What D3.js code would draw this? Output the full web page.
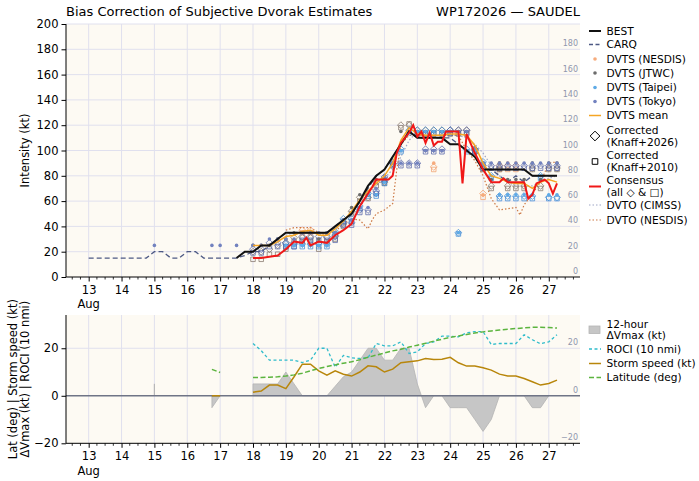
<!DOCTYPE html>
<html>
<head>
<meta charset="utf-8">
<script src="https://cdn.jsdelivr.net/npm/d3@7/dist/d3.min.js"></script>
<style>
body { margin: 0; background: #fff; }
svg { font-family: "DejaVu Sans", sans-serif; }
</style>
</head>
<body>
<div id="chart"></div>
<script>
// ---- data ----
var dvtsTimes = [18.0,18.25,18.5,18.75,19.0,19.25,19.5,19.75,20.0,20.25,20.5,20.75,21.0,21.25,21.5,21.75,22.0,22.25,22.5,22.75,23.0,23.25,23.5,23.75,24.0,24.25,24.5,24.75,25.0,25.25,25.5,25.75,26.0,26.25,26.5,26.75,27.0,27.25];

var bestTimes = [17.5,17.75,18.0,18.25,18.5,18.75,19.0,19.25,19.5,19.75,20.0,20.25,20.5,20.75,21.0,21.25,21.5,21.75,22.0,22.25,22.5,22.75,23.0,23.25,23.5,23.75,24.0,24.25,24.5,24.75,25.0,25.25,25.5,25.75,26.0,26.25,26.5,26.75,27.0,27.25];
var best = [15,20,20,25,25,30,35,35,35,35,35,35,40,45,50,60,72,80,85,95,105,115,110,110,110,110,105,105,100,95,85,85,85,85,85,85,80,80,80,80];

var carqTimes = [13.0,14.75,15.0,15.25,15.5,15.75,16.0,16.25,16.5,17.5,17.75,18.0,18.25,18.5,18.75,19.0,19.25,19.5,19.75,20.0,20.25,20.5,20.75,21.0,21.25,21.5,21.75,22.0,22.25,22.5,22.75,23.0,23.25,23.5,23.75,24.0,24.25,24.5,24.75,25.0,25.25,25.5,25.75,26.0,26.25,26.5,26.75,27.0,27.25];
var carq = [15,15,20,20,15,15,20,20,15,15,17,20,20,25,30,35,35,35,35,35,35,40,45,50,60,70,80,85,95,105,115,110,110,110,110,110,105,100,95,85,85,80,75,80,75,80,80,80,80];

var earlyTimes = [15.0,16.75,17.0,17.5];
var earlyTokyo = [25,25,25,25];

var jtwc     = [25,25,25,30,30,35,35,35,30,35,35,45,55,65,65,77,77,90,115,115,115,115,115,115,115,115,115,102,90,77,90,77,77,77,90,77,90,90];
var jtwcK26  = [20,20,22,25,27,31,31,31,27,31,33,42,52,63,63,75,75,90,120,120,116,116,116,116,116,116,116,100,86,72,86,72,72,72,86,72,86,86];
var jtwcK10  = [14,14,18,18,22,28,28,28,22,28,30,40,50,60,62,72,74,88,118,121,113,113,113,113,113,113,113,99,85,70,85,70,70,70,85,70,85,85];

var taipei    = [null,null,null,null,25,25,25,25,25,25,35,45,45,55,65,65,75,90,100,115,115,115,115,115,115,35,100,100,90,80,65,65,65,65,65,80,65,65];
var taipeiK26 = [null,null,null,null,26,26,26,26,26,26,36,46,46,56,66,66,76,91,101,116,116,116,116,116,116,35,101,101,91,80,64,64,64,64,64,80,63,63];
var taipeiK10 = [null,null,null,null,24,24,24,24,24,24,34,44,44,54,64,64,74,89,99,114,114,114,114,114,114,34,99,99,89,78,62,62,62,62,62,78,62,62];

var tokyo    = [25,25,30,30,30,30,35,35,35,35,35,45,45,55,55,70,80,90,90,90,90,100,100,100,115,115,115,102,90,90,90,90,90,90,90,90,90,90];
var tokyoK26 = [22,22,27,27,27,27,32,32,32,32,32,43,43,53,53,68,79,90,90,90,90,101,101,101,116,116,116,101,88,88,88,88,88,88,88,88,88,88];
var tokyoK10 = [19,19,24,24,24,24,29,29,29,29,29,41,41,51,51,66,77,88,88,88,88,99,99,99,114,114,114,99,86,86,86,86,86,86,86,86,86,86];

var nesdis    = [null,null,null,null,null,null,35,35,null,null,null,null,null,null,null,null,null,null,null,null,null,null,90,null,null,null,null,null,65,null,90,90,90,null,null,null,null,null];
var nesdisK26 = [null,null,null,null,null,null,37,37,null,null,null,null,null,null,null,null,null,null,null,null,null,null,87,null,null,null,null,null,66,null,88,88,88,null,null,null,null,null];
var nesdisK10 = [null,null,null,null,null,null,35,35,null,null,null,null,null,null,null,null,null,null,null,null,null,null,85,null,null,null,null,null,63,null,85,85,85,null,null,null,null,null];

var dvtsMean = [25,25,25,28,32,33,36,37,33,33,38,44,52,61,68,74,80,90,108,118,113,112,112,112,113,113,112,104,90,80,78,75,74,74,70,75,77,75];

var consensusTimes = [18.0,18.25,18.5,18.75,19.0,19.25,19.5,19.625,19.75,20.0,20.25,20.5,20.75,21.0,21.25,21.5,21.625,21.75,22.0,22.125,22.25,22.375,22.5,22.75,22.875,23.0,23.125,23.25,23.375,23.5,23.625,23.75,23.875,24.0,24.25,24.375,24.5,24.75,25.0,25.25,25.5,25.625,25.75,26.0,26.25,26.375,26.5,26.625,26.875,27.0,27.125,27.25];
var consensus = [15,15,16,17,22,28,27,31,25,28,27,33,37,42,56,66,71,77,77,77,80,98,106,114,120,111,115,106,114,104,107,107,115,115,115,74,113,98,85,75,75,78,75,75,75,62,65,74,77,74,66,74];

var dvtoNTimes = [19.0,19.25,19.5,19.75,20.0,20.25,20.5,20.75,21.0,21.25,21.5,21.625,21.75,22.0,22.25,22.375,22.5,22.75,23.0,23.25,23.5,23.75,24.0,24.25,24.5,24.75,25.0,25.25,25.5,25.75,26.0,26.125,26.25,26.5,26.75,27.0,27.25];
var dvtoNesdis = [37,39,39,39,35,33,36,42,46,45,38,45,50,53,58,85,105,112,112,112,112,112,112,112,100,92,80,62,53,54,55,49,57,66,75,90,91];

var dvtoCTimes = [19.0,19.25,19.5,19.75,20.0,20.25,20.5,20.75,21.0,21.25,21.5,21.75,22.0,22.25,22.5,22.75,23.0,23.25,23.5,23.75,24.0,24.25,24.5,24.75,25.0,25.25,25.5,25.75,26.0,26.25,26.5,26.75,27.0,27.25];
var dvtoCimss = [33,35,36,36,35,35,38,42,48,55,65,72,78,85,95,108,115,114,112,112,112,112,110,105,98,88,80,75,72,72,72,75,78,80];

// lower panel
var dvTimes = [18.0,18.25,18.5,18.75,19.0,19.25,19.5,19.75,20.0,20.25,20.5,20.75,21.0,21.25,21.5,21.75,22.0,22.25,22.5,22.75,23.0,23.25,23.5,23.75,24.0,24.25,24.5,24.75,25.0,25.25,25.5,25.75,26.0,26.25,26.5,26.75,27.0];
var dvmax = [5,5,5,5,10,5,0,0,0,0,4,8,10,15,20,20,15,15,20,20,5,-5,0,0,-5,-5,-5,-10,-15,-10,0,0,0,0,-5,-5,0];
var dvSpikeTimes = [15.0,15.0];
var dvSpike = [0,5];
var dvEarlyTimes = [16.75,17.0];
var dvEarly = [-5,0];

var earlyMotionTimes = [16.75,17.0];
var speedEarly = [0,0];
var latEarly = [11.1,9.8];
var speed = [1.5,2,4.5,4.5,3,8,13.3,13.3,10.5,8.7,10.5,9.1,8.3,10,12.6,12.2,10,11.2,13.9,14.3,14.7,15.7,15.3,15.4,16.2,13.9,12.5,12.5,11.8,10.8,9.1,8.3,8.3,7.3,5.9,4.5,5.2,6.6];
var latitude = [7.7,7.7,7.8,8.0,8.3,8.8,9.5,10.5,11.5,12.3,13.0,13.7,14.3,15.2,16.2,17.1,18.0,18.9,19.6,20.5,21.3,22.1,23.0,23.8,24.6,25.2,25.8,26.4,26.9,27.3,27.7,28.0,28.3,28.6,28.8,28.8,28.7,28.5];
var roci = [22,19,15,15,15,15,14,15,20,20,12,17,16,15.7,16,22,21,21,22.7,17.8,18.5,22,22.7,25.1,25.1,24.8,26.5,27,27,21.6,22,22,22,25.7,23.6,21.9,22.7,25.7];

var dayTicks = [13,14,15,16,17,18,19,20,21,22,23,24,25,26,27];
var intensityTicks = [0,20,40,60,80,100,120,140,160,180,200];
var lowerTicks = [-20,0,20];

// ---- layout ----
var SVGwidth = 699, SVGheight = 481;
var plotL = 66, plotR = 580;
var upTop = 24, upBot = 277, loTop = 315, loBot = 443.3;
var bg = "#fdfaf3", gridCol = "#e0e0ee";

var svg = d3.select("#chart").append("svg")
	.attr("width", SVGwidth).attr("height", SVGheight);

var x = d3.scaleLinear().domain([12.31, 27.95]).range([plotL, plotR]);
var y = d3.scaleLinear().domain([0, 200]).range([upBot, upTop]);
var y2 = d3.scaleLinear().domain([-20, 34]).range([loBot, loTop]);

function pts(ts, vs) { return ts.map(function(t, i) { return [t, vs[i]]; }); }

var minorDays = d3.range(12.5, 27.9, 0.25).filter(function(d) { return d % 1 !== 0; });

function panel(yScale, top, bot, hTicks) {
	var g = svg.append("g");
	g.append("rect").attr("x", plotL).attr("y", top).attr("width", plotR - plotL).attr("height", bot - top).attr("fill", bg);
	g.selectAll(".vg").data(dayTicks).enter().append("line")
		.attr("x1", function(d) { return x(d); }).attr("x2", function(d) { return x(d); })
		.attr("y1", top).attr("y2", bot).attr("stroke", gridCol).attr("stroke-width", 1);
	g.selectAll(".hg").data(hTicks).enter().append("line")
		.attr("x1", plotL).attr("x2", plotR)
		.attr("y1", function(d) { return yScale(d); }).attr("y2", function(d) { return yScale(d); })
		.attr("stroke", gridCol).attr("stroke-width", 1);
	return g;
}

function axes(yScale, top, bot, yTicks, labelY) {
	var g = svg.append("g");
	// x axis
	var xa = g.append("g").attr("transform", "translate(0," + bot + ")")
		.call(d3.axisBottom(x).tickValues(dayTicks).tickSize(4.5).tickPadding(4).tickSizeOuter(0)
			.tickFormat(function(d) { return d; }));
	xa.select(".domain").remove();
	xa.selectAll("text").attr("font-size", 11.5).attr("fill", "#000").attr("font-family", "DejaVu Sans");
	g.selectAll(".mx").data(minorDays).enter().append("line")
		.attr("x1", function(d) { return x(d); }).attr("x2", function(d) { return x(d); })
		.attr("y1", bot).attr("y2", bot + 2.5).attr("stroke", "#000").attr("stroke-width", 0.8);
	g.append("text").attr("x", x(13)).attr("y", labelY).attr("text-anchor", "middle")
		.attr("font-size", 11.5).text("Aug");
	// y axis
	var ya = g.append("g").attr("transform", "translate(" + plotL + ",0)")
		.call(d3.axisLeft(yScale).tickValues(yTicks).tickSize(4.5).tickPadding(3).tickSizeOuter(0)
			.tickFormat(function(d) { return d < 0 ? "\u2212" + Math.abs(d) : d; }));
	ya.select(".domain").remove();
	ya.selectAll("text").attr("font-size", 11.5).attr("fill", "#000").attr("font-family", "DejaVu Sans");
	// spines
	g.append("line").attr("x1", plotL).attr("x2", plotL).attr("y1", top).attr("y2", bot).attr("stroke", "#000").attr("stroke-width", 1);
	g.append("line").attr("x1", plotL).attr("x2", plotR).attr("y1", bot).attr("y2", bot).attr("stroke", "#000").attr("stroke-width", 1);
}

// ---- upper panel ----
panel(y, upTop, upBot, intensityTicks.filter(function(d) { return d > 0; }));

// twin labels inside right edge
svg.selectAll(".tw").data(intensityTicks.filter(function(d) { return d < 200; })).enter().append("text")
	.attr("x", plotR - 2).attr("y", function(d) { return y(d) - 3; })
	.attr("text-anchor", "end").attr("font-size", 8).attr("fill", "#9096ad").text(function(d) { return d; });

var line = d3.line().defined(function(d) { return d[1] != null; })
	.x(function(d) { return x(d[0]); }).y(function(d) { return y(d[1]); });

svg.append("path").datum(pts(dvtoCTimes, dvtoCimss)).attr("d", line).attr("fill", "none")
	.attr("stroke", "#9ea6c6").attr("stroke-width", 1.2).attr("stroke-dasharray", "1.5,2");
svg.append("path").datum(pts(dvtoNTimes, dvtoNesdis)).attr("d", line).attr("fill", "none")
	.attr("stroke", "#cc7844").attr("stroke-width", 1.2).attr("stroke-dasharray", "1.5,2");

var diamond = d3.symbol().type(d3.symbolDiamond2).size(30);
var square = d3.symbol().type(d3.symbolSquare2).size(26);

var agencies = [
	{raw: nesdis, k26: nesdisK26, k10: nesdisK10, dot: "#f6ab7c", ring: "#f0a070"},
	{raw: jtwc, k26: jtwcK26, k10: jtwcK10, dot: "#6c6c6c", ring: "#85766c"},
	{raw: taipei, k26: taipeiK26, k10: taipeiK10, dot: "#5eaae6", ring: "#3f8bd6"},
	{raw: tokyo, k26: tokyoK26, k10: tokyoK10, dot: "#7282bf", ring: "#5867a8"}
];

agencies.forEach(function(a) {
	var k10 = pts(dvtsTimes, a.k10).filter(function(d) { return d[1] != null; });
	var k26 = pts(dvtsTimes, a.k26).filter(function(d) { return d[1] != null; });
	svg.append("g").selectAll("path").data(k10).enter().append("path")
		.attr("d", square).attr("transform", function(d) { return "translate(" + x(d[0]) + "," + y(d[1]) + ")"; })
		.attr("fill", "none").attr("stroke", a.ring).attr("stroke-width", 0.9).attr("opacity", 0.85);
	svg.append("g").selectAll("path").data(k26).enter().append("path")
		.attr("d", diamond).attr("transform", function(d) { return "translate(" + x(d[0]) + "," + y(d[1]) + ")"; })
		.attr("fill", "none").attr("stroke", a.ring).attr("stroke-width", 0.9).attr("opacity", 0.85);
});
agencies.forEach(function(a) {
	var raw = pts(dvtsTimes, a.raw).filter(function(d) { return d[1] != null; });
	svg.append("g").selectAll("circle").data(raw).enter().append("circle")
		.attr("cx", function(d) { return x(d[0]); }).attr("cy", function(d) { return y(d[1]); })
		.attr("r", 1.8).attr("fill", a.dot);
});
svg.append("g").selectAll("circle").data(pts(earlyTimes, earlyTokyo)).enter().append("circle")
	.attr("cx", function(d) { return x(d[0]); }).attr("cy", function(d) { return y(d[1]); })
	.attr("r", 1.8).attr("fill", "#7282bf");

svg.append("path").datum(pts(carqTimes, carq)).attr("d", line).attr("fill", "none")
	.attr("stroke", "#4d5984").attr("stroke-width", 1.3).attr("stroke-dasharray", "5,3");
svg.append("path").datum(pts(dvtsTimes, dvtsMean)).attr("d", line).attr("fill", "none")
	.attr("stroke", "#f5a524").attr("stroke-width", 1.5);
svg.append("path").datum(pts(bestTimes, best)).attr("d", line).attr("fill", "none")
	.attr("stroke", "#111").attr("stroke-width", 2);
svg.append("path").datum(pts(consensusTimes, consensus)).attr("d", line).attr("fill", "none")
	.attr("stroke", "#f01818").attr("stroke-width", 2);

axes(y, upTop, upBot, intensityTicks, 308);

svg.append("text").attr("transform", "translate(29," + ((upTop + upBot) / 2) + ") rotate(-90)")
	.attr("text-anchor", "middle").attr("font-size", 11.5).text("Intensity (kt)");

svg.append("text").attr("x", plotL).attr("y", 16).attr("font-size", 13).text("Bias Correction of Subjective Dvorak Estimates");
svg.append("text").attr("x", plotR).attr("y", 16).attr("text-anchor", "end").attr("font-size", 13).text("WP172026 \u2014 SAUDEL");

// upper legend
var lg = svg.append("g").attr("font-size", 10.6);
var lx0 = 589, lx1 = 601, ltx = 606.5;
function legLine(yy, col, w, dash) {
	lg.append("line").attr("x1", lx0).attr("x2", lx1).attr("y1", yy).attr("y2", yy)
		.attr("stroke", col).attr("stroke-width", w).attr("stroke-dasharray", dash || null);
}
function legText(yy, txt) {
	lg.append("text").attr("x", ltx).attr("y", yy).attr("dy", "0.35em").text(txt);
}
legLine(31, "#111", 2); legText(31, "BEST");
legLine(44.5, "#4d5984", 1.3, "4,2.5"); legText(44.5, "CARQ");
var dotItems = [["#f6ab7c", 59, "DVTS (NESDIS)"], ["#6c6c6c", 73, "DVTS (JTWC)"], ["#5eaae6", 87.5, "DVTS (Taipei)"], ["#7282bf", 101.5, "DVTS (Tokyo)"]];
dotItems.forEach(function(d) {
	lg.append("circle").attr("cx", 595).attr("cy", d[1]).attr("r", 1.8).attr("fill", d[0]);
	legText(d[1], d[2]);
});
legLine(115.5, "#f5a524", 1.5); legText(115.5, "DVTS mean");
lg.append("path").attr("d", d3.symbol().type(d3.symbolDiamond2).size(60)).attr("transform", "translate(595,136)")
	.attr("fill", "none").attr("stroke", "#000").attr("stroke-width", 1);
legText(130, "Corrected"); legText(142, "(Knaff+2026)");
lg.append("path").attr("d", d3.symbol().type(d3.symbolSquare2).size(40)).attr("transform", "translate(595,161.5)")
	.attr("fill", "none").attr("stroke", "#000").attr("stroke-width", 1);
legText(155.5, "Corrected"); legText(167.5, "(Knaff+2010)");
legLine(186.5, "#f01818", 2); legText(180.5, "Consensus"); legText(192.5, "(all \u25C7 & \u25A1)");
legLine(205, "#9ea6c6", 1.2, "1.5,2"); legText(205, "DVTO (CIMSS)");
legLine(220, "#cc7844", 1.2, "1.5,2"); legText(220, "DVTO (NESDIS)");

// ---- lower panel ----
panel(y2, loTop, loBot, [20]);

var area = d3.area().x(function(d) { return x(d[0]); }).y0(y2(0)).y1(function(d) { return y2(d[1]); });
[pts(dvTimes, dvmax), pts(dvSpikeTimes, dvSpike), pts(dvEarlyTimes, dvEarly)].forEach(function(seg) {
	svg.append("path").datum(seg).attr("d", area).attr("fill", "#c6c6c6").attr("stroke", "#b4b4b4").attr("stroke-width", 0.8);
});

svg.append("line").attr("x1", plotL).attr("x2", plotR).attr("y1", y2(0)).attr("y2", y2(0))
	.attr("stroke", "#6f7486").attr("stroke-width", 1.6);

svg.selectAll(".tw2").data(lowerTicks).enter().append("text")
	.attr("x", plotR - 2).attr("y", function(d) { return y2(d) - 3; })
	.attr("text-anchor", "end").attr("font-size", 8).attr("fill", "#9096ad")
	.text(function(d) { return d < 0 ? "\u2212" + Math.abs(d) : d; });

var line2 = d3.line().x(function(d) { return x(d[0]); }).y(function(d) { return y2(d[1]); });
svg.append("path").datum(pts(dvtsTimes, roci)).attr("d", line2).attr("fill", "none")
	.attr("stroke", "#2fbccb").attr("stroke-width", 1.3).attr("stroke-dasharray", "3,2.5");
[pts(earlyMotionTimes, speedEarly), pts(dvtsTimes, speed)].forEach(function(seg) {
	svg.append("path").datum(seg).attr("d", line2).attr("fill", "none")
		.attr("stroke", "#b8860b").attr("stroke-width", 1.5);
});
[pts(earlyMotionTimes, latEarly), pts(dvtsTimes, latitude)].forEach(function(seg) {
	svg.append("path").datum(seg).attr("d", line2).attr("fill", "none")
		.attr("stroke", "#5bb43e").attr("stroke-width", 1.5).attr("stroke-dasharray", "5,2.5");
});

axes(y2, loTop, loBot, lowerTicks, 475);

svg.append("text").attr("transform", "translate(17," + ((loTop + loBot) / 2) + ") rotate(-90)")
	.attr("text-anchor", "middle").attr("font-size", 11.5).text("Lat (deg) | Storm speed (kt)");
svg.append("text").attr("transform", "translate(29," + ((loTop + loBot) / 2) + ") rotate(-90)")
	.attr("text-anchor", "middle").attr("font-size", 11.5).text("\u0394Vmax (kt) | ROCI (10 nmi)");

// lower legend
var lg2 = svg.append("g").attr("font-size", 10.6);
lg2.append("rect").attr("x", 589).attr("y", 326).attr("width", 11).attr("height", 7.5).attr("fill", "#c6c6c6").attr("stroke", "#b4b4b4").attr("stroke-width", 0.8);
lg2.append("text").attr("x", ltx).attr("y", 324).attr("dy", "0.35em").text("12-hour");
lg2.append("text").attr("x", ltx).attr("y", 335.5).attr("dy", "0.35em").text("\u0394Vmax (kt)");
[[349, "#2fbccb", "3,2.5", "ROCI (10 nmi)"], [363.5, "#b8860b", null, "Storm speed (kt)"], [377.5, "#5bb43e", "5,2.5", "Latitude (deg)"]].forEach(function(d) {
	lg2.append("line").attr("x1", lx0).attr("x2", lx1).attr("y1", d[0]).attr("y2", d[0])
		.attr("stroke", d[1]).attr("stroke-width", 1.5).attr("stroke-dasharray", d[2]);
	lg2.append("text").attr("x", ltx).attr("y", d[0]).attr("dy", "0.35em").text(d[3]);
});
</script>
</body>
</html>
